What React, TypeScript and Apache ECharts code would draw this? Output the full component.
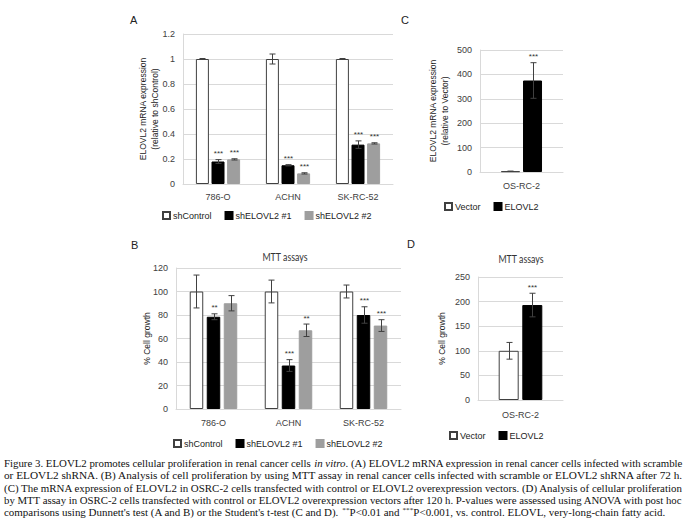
import React, { useEffect, useRef } from "react";
import * as echarts from "echarts";

// ---- Panels A & B: knockdown in three renal cancer cell lines ----
const cellLines = ["786-O", "ACHN", "SK-RC-52"];
const knockdownGroups = ["shControl", "shELOVL2 #1", "shELOVL2 #2"];

// A: ELOVL2 mRNA expression (relative to shControl)
const exprShControl = [1.0, 1.0, 1.0];
const exprShControlErr = [0.004, 0.04, 0.004];
const exprShControlSig = ["", "", ""];
const exprSh1 = [0.18, 0.15, 0.315];
const exprSh1Err = [0.015, 0.005, 0.03];
const exprSh1Sig = ["***", "***", "***"];
const exprSh2 = [0.197, 0.085, 0.325];
const exprSh2Err = [0.005, 0.005, 0.005];
const exprSh2Sig = ["***", "***", "***"];

// B: MTT assay, % cell growth
const growthShControl = [100, 100, 100];
const growthShControlErr = [14, 9.7, 5.5];
const growthShControlSig = ["", "", ""];
const growthSh1 = [78.5, 37, 80];
const growthSh1Err = [2.5, 5, 7];
const growthSh1Sig = ["**", "***", "***"];
const growthSh2 = [90, 67, 71];
const growthSh2Err = [6.5, 5.3, 5];
const growthSh2Sig = ["", "**", "***"];

// ---- Panels C & D: overexpression in OS-RC-2 ----
const overexprLines = ["OS-RC-2"];
const overexprGroups = ["Vector", "ELOVL2"];

// C: ELOVL2 mRNA expression (relative to Vector)
const exprVector = [3];
const exprVectorErr = [0.5];
const exprVectorSig = [""];
const exprElovl2 = [375];
const exprElovl2Err = [73];
const exprElovl2Sig = ["***"];

// D: MTT assay, % cell growth
const growthVector = [100];
const growthVectorErr = [17];
const growthVectorSig = [""];
const growthElovl2 = [193];
const growthElovl2Err = [24];
const growthElovl2Sig = ["***"];

// Axis ranges
const axisA = { min: 0, max: 1.2, interval: 0.2 };
const axisB = { min: 0, max: 120, interval: 20 };
const axisC = { min: 0, max: 500, interval: 100 };
const axisD = { min: 0, max: 250, interval: 50 };

const captionLines = [
  "Figure 3. ELOVL2 promotes cellular proliferation in renal cancer cells {i|in vitro}. (A) ELOVL2 mRNA expression in renal cancer cells infected with scramble",
  "or ELOVL2 shRNA. (B) Analysis of cell proliferation by using MTT assay in renal cancer cells infected with scramble or ELOVL2 shRNA after 72 h.",
  "(C) The mRNA expression of ELOVL2 in OSRC-2 cells transfected with control or ELOVL2 overexpression vectors. (D) Analysis of cellular proliferation",
  "by MTT assay in OSRC-2 cells transfected with control or ELOVL2 overexpression vectors after 120 h. P-values were assessed using ANOVA with post hoc",
  "comparisons using Dunnett's test (A and B) or the Student's t-test (C and D). {sup|**}P<0.01 and {sup|***}P<0.001, vs. control. ELOVL, very-long-chain fatty acid.",
];

const SANS = "'Liberation Sans', Arial, sans-serif";
const SERIF = "'Liberation Serif', 'Times New Roman', serif";
const GRID_COLOR = "#d9d9d9";
const LABEL_COLOR = "#404040";
const ERR_COLOR = "#404040";

const FILLS = {
  white: { color: "#ffffff", borderColor: "#404040", borderWidth: 1 },
  black: { color: "#000000", borderColor: "#000000", borderWidth: 1 },
  gray: { color: "#9e9e9e", borderColor: "#9e9e9e", borderWidth: 1 },
};

type Group = {
  name: string;
  values: number[];
  errs: number[];
  sig: string[];
  style: { color: string; borderColor: string; borderWidth: number };
};

function panelSeries(gi: number, groups: Group[], barWidth: number, gapRatio: number) {
  const n = groups.length;
  const pitch = barWidth * (1 + gapRatio);
  const out: any[] = [];
  groups.forEach((g) => {
    out.push({
      type: "bar",
      name: g.name,
      xAxisIndex: gi,
      yAxisIndex: gi,
      data: g.values,
      barWidth,
      barGap: `${gapRatio * 100}%`,
      itemStyle: g.style,
      emphasis: { disabled: true },
    });
  });
  groups.forEach((g, k) => {
    const offset = (k - (n - 1) / 2) * pitch;
    out.push({
      type: "custom",
      name: g.name + " error",
      xAxisIndex: gi,
      yAxisIndex: gi,
      silent: true,
      z: 5,
      data: g.values.map((v, i) => [i, v, g.errs[i]]),
      renderItem: (params: any, api: any) => {
        const ci = api.value(0);
        const v = api.value(1);
        const e = api.value(2);
        const top = api.coord([ci, v + e]);
        const bot = api.coord([ci, Math.max(v - e, 0)]);
        const x = Math.round(top[0] + offset) + 0.5;
        const cap = 3;
        const stroke = { stroke: ERR_COLOR, lineWidth: 1 };
        const children: any[] = [
          { type: "line", shape: { x1: x, y1: top[1], x2: x, y2: bot[1] }, style: stroke },
          { type: "line", shape: { x1: x - cap, y1: top[1], x2: x + cap, y2: top[1] }, style: stroke },
          { type: "line", shape: { x1: x - cap, y1: bot[1], x2: x + cap, y2: bot[1] }, style: stroke },
        ];
        const s = g.sig[params.dataIndex];
        if (s) {
          children.push({
            type: "text",
            x,
            y: top[1] - 2,
            style: {
              text: s,
              fill: "#333",
              font: `8px ${SANS}`,
              align: "center",
              verticalAlign: "bottom",
            },
          });
        }
        return { type: "group", children };
      },
    });
  });
  return out;
}

function xAxisFor(gi: number, data: string[], margin: number) {
  return {
    type: "category",
    gridIndex: gi,
    data,
    axisTick: { show: false },
    axisLine: { lineStyle: { color: GRID_COLOR } },
    axisLabel: { fontSize: 9, color: LABEL_COLOR, margin, fontFamily: SANS },
  };
}

function yAxisFor(gi: number, range: any, name: string, nameGap: number) {
  return {
    type: "value",
    gridIndex: gi,
    ...range,
    axisLine: { show: true, lineStyle: { color: GRID_COLOR } },
    axisTick: { show: false },
    splitLine: { lineStyle: { color: GRID_COLOR } },
    axisLabel: { fontSize: 9, color: LABEL_COLOR, margin: 8, fontFamily: SANS },
    name,
    nameLocation: "middle",
    nameRotate: 90,
    nameGap,
    nameMoveOverlap: false,
    nameTextStyle: { fontSize: 8.5, color: "#222", lineHeight: 12, fontFamily: SANS },
  };
}

function legendFor(names: string[], left: number, top: number) {
  return {
    data: names,
    left,
    top,
    padding: 0,
    icon: "rect",
    itemWidth: 7,
    itemHeight: 7,
    itemGap: 13,
    selectedMode: false,
    textStyle: { fontSize: 9, color: "#222", fontFamily: SANS, padding: [0, 0, 0, -2] },
  };
}

// Caption typesetting: each line is horizontally scaled to fill the column.
function parseSegments(line: string) {
  const segs: { text: string; kind: string }[] = [];
  const re = /\{(\w+)\|([^}]*)\}/g;
  let last = 0;
  let m: RegExpExecArray | null;
  while ((m = re.exec(line))) {
    if (m.index > last) segs.push({ text: line.slice(last, m.index), kind: "plain" });
    segs.push({ text: m[2], kind: m[1] });
    last = m.index + m[0].length;
  }
  if (last < line.length) segs.push({ text: line.slice(last), kind: "plain" });
  return segs;
}

const CAPTION_SIZE = 10.5;
const SUP_SIZE = 7;

function measureLine(ctx: CanvasRenderingContext2D, line: string) {
  let w = 0;
  for (const s of parseSegments(line)) {
    if (s.kind === "i") ctx.font = `italic ${CAPTION_SIZE}px ${SERIF}`;
    else if (s.kind === "sup") ctx.font = `${SUP_SIZE}px ${SERIF}`;
    else ctx.font = `${CAPTION_SIZE}px ${SERIF}`;
    w += ctx.measureText(s.text).width;
  }
  return w;
}

function captionGraphics() {
  const canvas = document.createElement("canvas");
  const ctx = canvas.getContext("2d") as CanvasRenderingContext2D;
  const left = 4;
  const rights = [684, 684, 684, 684, 666];
  const y0 = 463.3;
  const step = 12.3;
  return captionLines.map((line, i) => {
    const w = measureLine(ctx, line);
    const scaleX = (rights[i] - left) / w;
    return {
      type: "text",
      x: left,
      y: y0 + i * step,
      scaleX,
      silent: true,
      style: {
        text: line,
        fill: "#111",
        fontSize: CAPTION_SIZE,
        fontFamily: SERIF,
        verticalAlign: "middle",
        align: "left",
        rich: {
          i: { fontStyle: "italic", fontSize: CAPTION_SIZE, fontFamily: SERIF, fill: "#111" },
          sup: { fontSize: SUP_SIZE, fontFamily: SERIF, fill: "#111", verticalAlign: "top", lineHeight: 12 },
        },
      },
    };
  });
}

function panelLetter(text: string, x: number, y: number) {
  return {
    type: "text",
    x,
    y,
    silent: true,
    style: { text, fill: "#222", font: `11px ${SANS}`, align: "left", verticalAlign: "middle" },
  };
}

function panelTitle(text: string, x: number, y: number) {
  return {
    type: "text",
    x,
    y,
    scaleX: 0.84,
    silent: true,
    style: {
      text,
      fill: "#333",
      font: `10.5px Lato, 'Open Sans', sans-serif`,
      align: "center",
      verticalAlign: "middle",
    },
  };
}

export default function App() {
  const ref = useRef<HTMLDivElement>(null);

  useEffect(() => {
    if (!ref.current) return;
    const chart = echarts.init(ref.current, null, { renderer: "svg" });

    const groupsA: Group[] = [
      { name: knockdownGroups[0], values: exprShControl, errs: exprShControlErr, sig: exprShControlSig, style: FILLS.white },
      { name: knockdownGroups[1], values: exprSh1, errs: exprSh1Err, sig: exprSh1Sig, style: FILLS.black },
      { name: knockdownGroups[2], values: exprSh2, errs: exprSh2Err, sig: exprSh2Sig, style: FILLS.gray },
    ];
    const groupsB: Group[] = [
      { name: knockdownGroups[0], values: growthShControl, errs: growthShControlErr, sig: growthShControlSig, style: FILLS.white },
      { name: knockdownGroups[1], values: growthSh1, errs: growthSh1Err, sig: growthSh1Sig, style: FILLS.black },
      { name: knockdownGroups[2], values: growthSh2, errs: growthSh2Err, sig: growthSh2Sig, style: FILLS.gray },
    ];
    const groupsC: Group[] = [
      { name: overexprGroups[0], values: exprVector, errs: exprVectorErr, sig: exprVectorSig, style: FILLS.white },
      { name: overexprGroups[1], values: exprElovl2, errs: exprElovl2Err, sig: exprElovl2Sig, style: FILLS.black },
    ];
    const groupsD: Group[] = [
      { name: overexprGroups[0], values: growthVector, errs: growthVectorErr, sig: growthVectorSig, style: FILLS.white },
      { name: overexprGroups[1], values: growthElovl2, errs: growthElovl2Err, sig: growthElovl2Sig, style: FILLS.black },
    ];

    const option: any = {
      animation: false,
      backgroundColor: "#ffffff",
      textStyle: { fontFamily: SANS },
      grid: [
        { left: 183, top: 34, width: 210, height: 150 },
        { left: 176, top: 268, width: 225, height: 141 },
        { left: 480, top: 50, width: 83, height: 122 },
        { left: 478, top: 277, width: 85, height: 123 },
      ],
      xAxis: [
        xAxisFor(0, cellLines, 8),
        xAxisFor(1, cellLines, 9),
        xAxisFor(2, overexprLines, 9),
        xAxisFor(3, overexprLines, 10),
      ],
      yAxis: [
        yAxisFor(0, axisA, "ELOVL2 mRNA expression\n(relative to shControl)", 22),
        yAxisFor(1, axisB, "% Cell growth", 23),
        yAxisFor(2, axisC, "ELOVL2 mRNA expression\n(relative to Vector)", 29),
        yAxisFor(3, axisD, "% Cell growth", 30),
      ],
      legend: [
        legendFor(knockdownGroups, 162, 211),
        legendFor(knockdownGroups, 173, 439),
        legendFor(overexprGroups, 444, 202),
        legendFor(overexprGroups, 449, 431),
      ],
      series: [
        ...panelSeries(0, groupsA, 13, 0.2),
        ...panelSeries(1, groupsB, 13.5, 0.26),
        ...panelSeries(2, groupsC, 19, 0.16),
        ...panelSeries(3, groupsD, 20, 0.18),
      ],
      graphic: [
        panelLetter("A", 130, 20),
        panelLetter("B", 131, 245),
        panelLetter("C", 401, 20),
        panelLetter("D", 407, 244),
        panelTitle("MTT assays", 285, 257),
        panelTitle("MTT assays", 521, 259),
        ...captionGraphics(),
      ],
    };

    chart.setOption(option);
    return () => chart.dispose();
  }, []);

  return (
    <div
      ref={ref}
      style={{ position: "absolute", left: 0, top: 0, width: 688, height: 528, background: "#fff" }}
    />
  );
}
